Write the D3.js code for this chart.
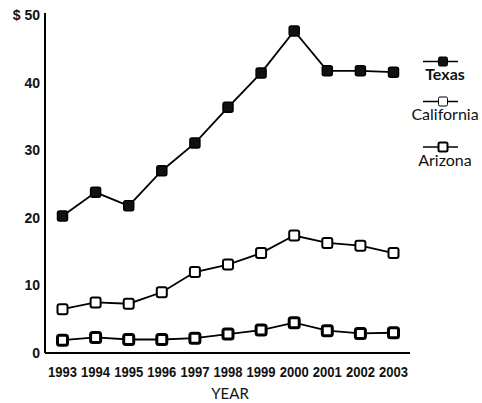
<!DOCTYPE html>
<html>
<head>
<meta charset="utf-8">
<script src="https://cdn.jsdelivr.net/npm/d3@7"></script>
<style>
  body { margin: 0; background: #fff; }
  svg text { fill: #111; }
</style>
</head>
<body>
<svg id="chart" width="482" height="403"></svg>
<script>
var years = [1993, 1994, 1995, 1996, 1997, 1998, 1999, 2000, 2001, 2002, 2003];
var texas = [20.3, 23.8, 21.8, 27.0, 31.1, 36.4, 41.5, 47.7, 41.8, 41.8, 41.6];
var california = [6.5, 7.5, 7.3, 9.0, 12.0, 13.1, 14.8, 17.4, 16.3, 15.9, 14.8];
var arizona = [1.9, 2.3, 2.0, 2.0, 2.2, 2.8, 3.4, 4.5, 3.3, 2.9, 3.0];
var yTicks = [0, 10, 20, 30, 40, 50];
var seriesNames = ["Texas", "California", "Arizona"];

var tickFont = "'Liberation Sans', Arial, sans-serif";
var labelFont = "Lato, 'Open Sans', sans-serif";

var svg = d3.select("#chart");

var x = d3.scalePoint().domain(years).range([62.5, 393.5]);
var y = d3.scaleLinear().domain([0, 50]).range([353, 15.5]);

// axes
svg.append("line")
    .attr("x1", 45).attr("x2", 45)
    .attr("y1", 13).attr("y2", 353)
    .attr("stroke", "#000").attr("stroke-width", 2);
svg.append("line")
    .attr("x1", 45).attr("x2", 410)
    .attr("y1", 353).attr("y2", 353)
    .attr("stroke", "#000").attr("stroke-width", 2);

svg.selectAll(".ytick")
    .data(yTicks)
    .enter().append("text")
    .attr("class", "ytick")
    .attr("x", 40)
    .attr("y", function(d) { return y(d) + 1; })
    .attr("text-anchor", "end")
    .attr("dominant-baseline", "middle")
    .style("font-family", tickFont)
    .style("font-size", "14px")
    .style("font-weight", "bold")
    .text(function(d) { return d == 50 ? "$ 50" : d; });

svg.selectAll(".xtick")
    .data(years)
    .enter().append("text")
    .attr("class", "xtick")
    .attr("x", function(d) { return x(d); })
    .attr("y", 373)
    .attr("text-anchor", "middle")
    .attr("dominant-baseline", "middle")
    .attr("textLength", 29)
    .attr("lengthAdjust", "spacingAndGlyphs")
    .style("font-family", tickFont)
    .style("font-size", "14px")
    .style("font-weight", "bold")
    .text(function(d) { return d; });

svg.append("text")
    .attr("x", 230).attr("y", 395)
    .attr("text-anchor", "middle")
    .attr("dominant-baseline", "middle")
    .style("font-family", labelFont)
    .style("font-size", "15px")
    .text("YEAR");

var data = [texas, california, arizona];
var styles = [
    {fill: "#111", stroke: "#000", sw: 1.5},
    {fill: "#fff", stroke: "#000", sw: 2},
    {fill: "#fff", stroke: "#000", sw: 3}
];

var line = d3.line()
    .x(function(d, i) { return x(years[i]); })
    .y(function(d) { return y(d); });

data.forEach(function(vals, k) {
    svg.append("path")
        .attr("d", line(vals))
        .attr("fill", "none")
        .attr("stroke", "#000")
        .attr("stroke-width", 1.8);
    svg.selectAll(".m" + k)
        .data(vals)
        .enter().append("rect")
        .attr("class", "m" + k)
        .attr("x", function(d, i) { return x(years[i]) - 5; })
        .attr("y", function(d) { return y(d) - 5; })
        .attr("width", 10).attr("height", 10)
        .attr("rx", 2)
        .attr("fill", styles[k].fill)
        .attr("stroke", styles[k].stroke)
        .attr("stroke-width", styles[k].sw);
});

// legend
var legY = [61.5, 101.5, 147];
seriesNames.forEach(function(name, k) {
    var g = svg.append("g");
    g.append("line")
        .attr("x1", 423).attr("x2", 458)
        .attr("y1", legY[k]).attr("y2", legY[k])
        .attr("stroke", "#000").attr("stroke-width", 1.5);
    g.append("rect")
        .attr("x", 443 - 4.5).attr("y", legY[k] - 4.5)
        .attr("width", 9).attr("height", 9)
        .attr("rx", 1.5)
        .attr("fill", styles[k].fill)
        .attr("stroke", "#000")
        .attr("stroke-width", k == 2 ? 2 : 1);
    g.append("text")
        .attr("x", 445).attr("y", legY[k] + 14.5)
        .attr("text-anchor", "middle")
        .attr("dominant-baseline", "middle")
        .style("font-family", labelFont)
        .style("font-size", "16px")
        .style("font-weight", k == 0 ? "bold" : "normal")
        .text(name);
});
</script>
</body>
</html>
